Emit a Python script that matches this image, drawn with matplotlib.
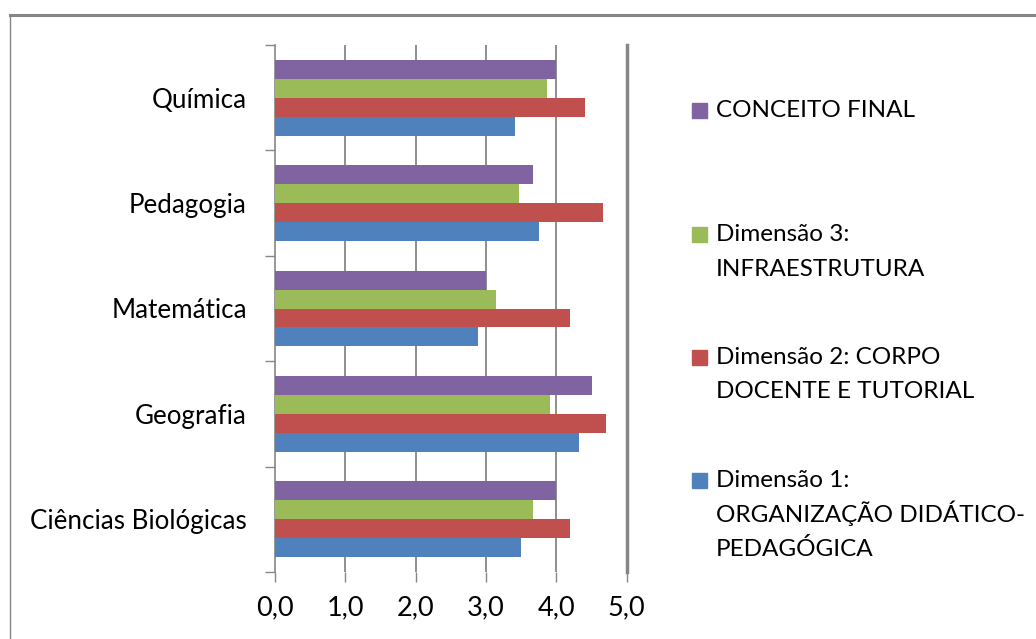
import numpy as np
import matplotlib.pyplot as plt
from matplotlib.patches import Rectangle
from matplotlib.lines import Line2D

plt.rcParams['font.family'] = ['Lato', 'DejaVu Sans']

# Courses, bottom to top
cursos = ['Ciências Biológicas', 'Geografia', 'Matemática', 'Pedagogia', 'Química']

# Scores per dimension (same order as cursos)
dim1 = [3.50, 4.32, 2.89, 3.75, 3.41]
dim2 = [4.19, 4.71, 4.19, 4.66, 4.41]
dim3 = [3.67, 3.91, 3.14, 3.47, 3.87]
conceito = [4.00, 4.51, 3.00, 3.67, 4.00]

series = [dim1, dim2, dim3, conceito]
cores = ['#4F81BD', '#C0504D', '#9BBB59', '#8064A2']
rotulos = [['Dimensão 1:', 'ORGANIZAÇÃO DIDÁTICO-', 'PEDAGÓGICA'],
           ['Dimensão 2: CORPO', 'DOCENTE E TUTORIAL'],
           ['Dimensão 3:', 'INFRAESTRUTURA'],
           ['CONCEITO FINAL']]
xticks = [0, 1, 2, 3, 4, 5]
xlabels = ['0,0', '1,0', '2,0', '3,0', '4,0', '5,0']

W, H = 1036, 639
fig = plt.figure(figsize=(W / 100, H / 100), dpi=100)
ax = fig.add_axes([274.7 / W, 1 - 572 / H, (626.7 - 274.7) / W, (572 - 45) / H])

grid = '#868686'
y = np.arange(len(cursos))
h = 0.18
offs = [-1.5 * h, -0.5 * h, 0.5 * h, 1.5 * h]
for vals, cor, off in zip(series, cores, offs):
    ax.barh(y + off, vals, height=h, color=cor, zorder=3)

ax.set_xlim(0, 5)
ax.set_ylim(-0.5, len(cursos) - 0.5)
ax.set_xticks(xticks)
ax.set_xticklabels(xlabels, fontsize=19.5)
ax.set_yticks(y)
ax.set_yticklabels(cursos, fontsize=18.7)
ax.set_yticks(np.arange(-0.5, len(cursos)), minor=True)

for x in xticks[1:-1]:
    ax.axvline(x, color=grid, lw=1.3, zorder=1)

for s in ['top', 'bottom']:
    ax.spines[s].set_visible(False)
ax.spines['left'].set_color(grid)
ax.spines['left'].set_linewidth(1.2)
ax.spines['right'].set_color(grid)
ax.spines['right'].set_linewidth(2.5)

ax.tick_params(axis='x', direction='out', length=7.5, width=1, color=grid, pad=9)
ax.tick_params(axis='y', which='major', length=0, pad=20)
ax.tick_params(axis='y', which='minor', direction='out', length=7.5, width=1, color=grid)

# Legend, drawn in pixel coordinates (top entry first)
leg_y = [110, 234, 357, 480]
passo = 34.5
for linhas, cor, yc in zip(rotulos[::-1], cores[::-1], leg_y):
    fig.patches.append(Rectangle((692 / W, 1 - (yc + 7.5) / H), 15 / W, 15 / H,
                                 transform=fig.transFigure, color=cor))
    for i, txt in enumerate(linhas):
        fig.text(716 / W, 1 - (yc + 7 + i * passo) / H, txt, fontsize=17.5,
                 va='baseline', ha='left')

# Outer frame
fig.add_artist(Line2D([10 / W, 1], [1 - 15 / H, 1 - 15 / H], color=grid, lw=2.2,
                      transform=fig.transFigure))
fig.add_artist(Line2D([10 / W, 10 / W], [0, 1 - 15 / H], color=grid, lw=1,
                      transform=fig.transFigure))

fig.savefig('out.png', dpi=100)
